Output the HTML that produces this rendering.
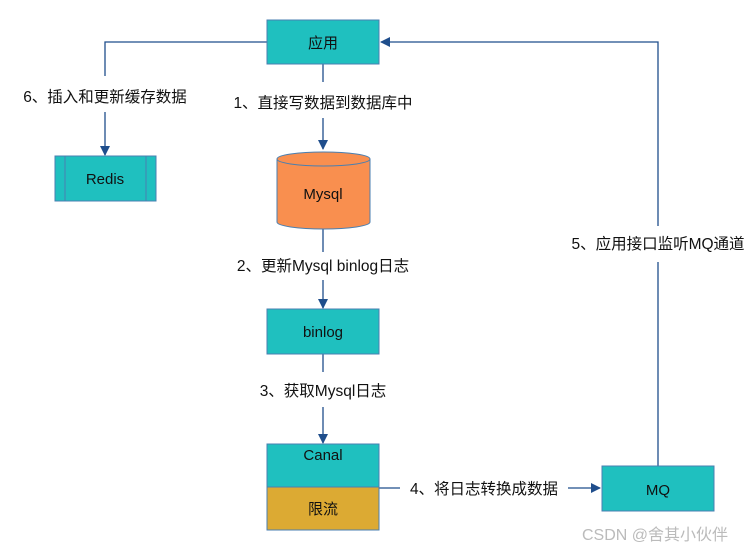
<!DOCTYPE html>
<html><head><meta charset="utf-8"><style>
body{margin:0;background:#fff;}
svg text{font-family:"Liberation Sans","Noto Sans CJK SC",sans-serif;fill:#111;}
</style></head><body>
<svg width="756" height="554" viewBox="0 0 756 554" xmlns="http://www.w3.org/2000/svg">
<defs><marker id="a" markerWidth="10" markerHeight="10" refX="9" refY="5" orient="auto" markerUnits="userSpaceOnUse"><path d="M0,0 L10,5 L0,10 z" fill="#1f4e8c"/></marker></defs>
<g stroke="#1f4e8c" stroke-width="1.3" fill="none">
<path d="M267,42 H105 V76"/><path d="M105,112 V155" marker-end="url(#a)"/>
<path d="M323,64 V82"/><path d="M323,118 V149" marker-end="url(#a)"/>
<path d="M323,228 V252"/><path d="M323,280 V308" marker-end="url(#a)"/>
<path d="M323,354 V372"/><path d="M323,407 V443" marker-end="url(#a)"/>
<path d="M379,488 H400"/><path d="M568,488 H600" marker-end="url(#a)"/>
<path d="M658,466 V262"/><path d="M658,226 V42 H381" marker-end="url(#a)"/>
</g>
<g stroke="#4a7fb0" stroke-width="1">
<rect x="267" y="20" width="112" height="44" fill="#1fc0bf"/>
<rect x="55" y="156" width="101" height="45" fill="#1fc0bf"/>
<line x1="65" y1="156" x2="65" y2="201"/><line x1="146" y1="156" x2="146" y2="201"/>
<path d="M277,159 V222 A46.5,7 0 0 0 370,222 V159 A46.5,7 0 0 0 277,159 Z" fill="#f98f4f"/>
<path d="M277,159 A46.5,7 0 0 0 370,159" fill="none"/>
<rect x="267" y="309" width="112" height="45" fill="#1fc0bf"/>
<rect x="267" y="444" width="112" height="43" fill="#1fc0bf"/>
<rect x="267" y="487" width="112" height="43" fill="#dcaa33"/>
<rect x="602" y="466" width="112" height="45" fill="#1fc0bf"/>
</g>
<g font-size="15" text-anchor="middle">
<text x="323" y="48">应用</text>
<text x="105" y="184">Redis</text>
<text x="323" y="199">Mysql</text>
<text x="323" y="337">binlog</text>
<text x="323" y="460">Canal</text>
<text x="323" y="514">限流</text>
<text x="658" y="495">MQ</text>
</g>
<g font-size="15.5" text-anchor="middle">
<text x="105" y="102">6、插入和更新缓存数据</text>
<text x="323" y="108">1、直接写数据到数据库中</text>
<text x="323" y="271">2、更新Mysql binlog日志</text>
<text x="323" y="396">3、获取Mysql日志</text>
<text x="484" y="494">4、将日志转换成数据</text>
<text x="658" y="249">5、应用接口监听MQ通道</text>
<text x="655" y="540" style="fill:#bbb" font-size="16">CSDN @舍其小伙伴</text>
</g>
</svg>
</body></html>
